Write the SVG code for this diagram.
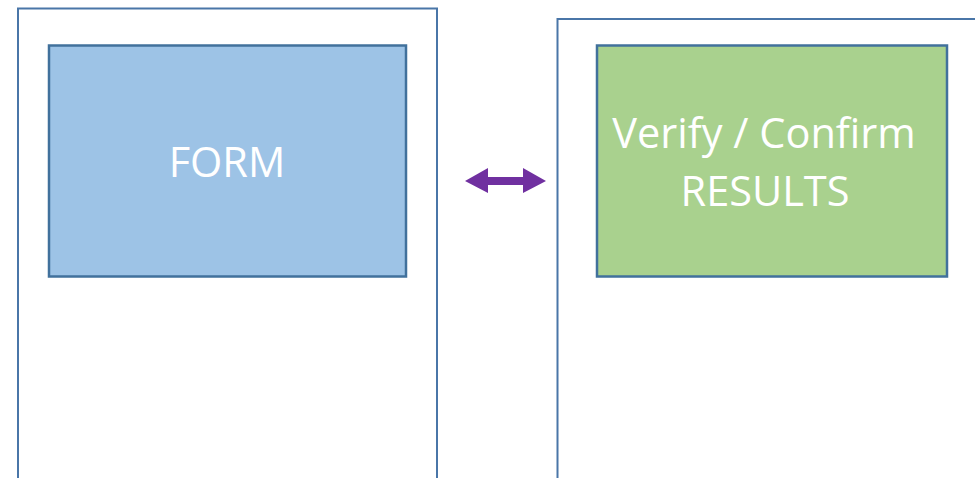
<svg xmlns="http://www.w3.org/2000/svg" width="975" height="478" viewBox="0 0 975 478">
<style>
.outer{fill:#fff;stroke:#4a76a8;stroke-width:2}
.inner{stroke:#41719c;stroke-width:2.5}
.lbl{fill:#fff;font-family:"Open Sans","Liberation Sans",sans-serif;font-size:41.5px;text-anchor:middle}
</style>
<rect width="975" height="478" fill="#fff"/>
<g id="left-panel"><rect class="outer" x="18" y="8.5" width="419" height="480"/></g>
<g id="right-panel"><rect class="outer" x="557.5" y="19" width="430" height="470"/></g>
<g id="form">
<rect class="inner" x="49" y="45.5" width="357" height="231" fill="#9dc3e6"/>
<text class="lbl" x="227" y="177">FORM</text>
</g>
<g id="verify">
<rect class="inner" x="597" y="45.5" width="350" height="231" fill="#a9d18e"/>
<text class="lbl" x="764" y="148">Verify / Confirm</text>
<text class="lbl" x="765" y="206">RESULTS</text>
</g>
<g id="connectors">
<polygon fill="#7030a0" points="465,181 488,168 488,177 523,177 523,168 546,181 523,193 523,185 488,185 488,193"/>
</g>
</svg>
